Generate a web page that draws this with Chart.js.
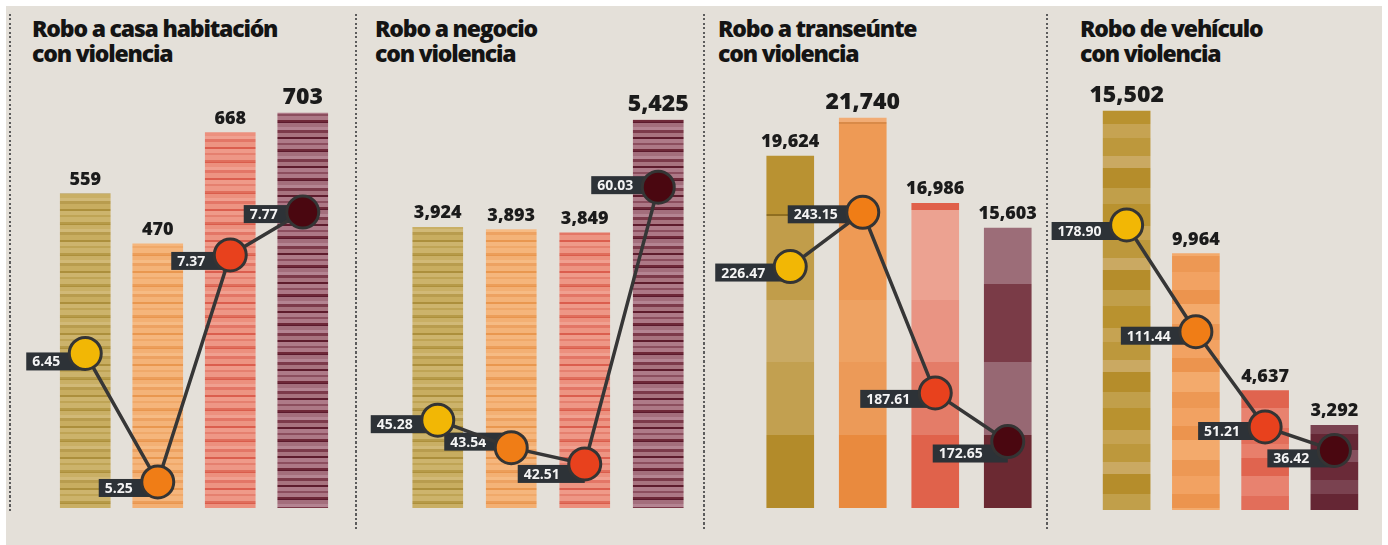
<!DOCTYPE html>
<html>
<head>
<meta charset="utf-8">
<script src="https://cdn.jsdelivr.net/npm/chart.js@4.4.1/dist/chart.umd.min.js"></script>
<style>
html,body{margin:0;padding:0;background:#ffffff;}
#wrap{position:relative;width:1388px;height:545px;overflow:hidden;background:#ffffff;}
#bg{position:absolute;left:6px;top:6px;width:1376px;height:539px;background:#e4e0d9;}
canvas.c{position:absolute;left:0;top:0;}
.sep{position:absolute;width:2px;background:repeating-linear-gradient(to bottom,#5c5c5c 0px,#5c5c5c 2px,transparent 2px,transparent 4.5px);}
.title{position:absolute;top:16px;font-family:"Open Sans",sans-serif;font-weight:800;font-size:23px;line-height:25px;letter-spacing:-1.2px;color:#141414;white-space:nowrap;}
</style>
</head>
<body>
<div id="wrap">
  <div id="bg"></div>
  <div class="sep" style="left:9px;top:14px;height:499px;"></div>
  <div class="sep" style="left:355px;top:14px;height:516px;"></div>
  <div class="sep" style="left:703px;top:14px;height:516px;"></div>
  <div class="sep" style="left:1046px;top:14px;height:516px;"></div>
  <div class="title" id="t0" style="left:32px;"></div>
  <div class="title" id="t1" style="left:375px;"></div>
  <div class="title" id="t2" style="left:718px;"></div>
  <div class="title" id="t3" style="left:1080px;"></div>
  <canvas class="c" id="c0" width="1388" height="545"></canvas>
  <canvas class="c" id="c1" width="1388" height="545"></canvas>
  <canvas class="c" id="c2" width="1388" height="545"></canvas>
  <canvas class="c" id="c3" width="1388" height="545"></canvas>
</div>
<script>
// ---------------- DATA ----------------
const periods = ['Periodo 1', 'Periodo 2', 'Periodo 3', 'Periodo 4'];
const panelTitles = [
  ['Robo a casa habitación', 'con violencia'],
  ['Robo a negocio', 'con violencia'],
  ['Robo a transeúnte', 'con violencia'],
  ['Robo de vehículo', 'con violencia']
];
const casaTotals = [559, 470, 668, 703];
const casaRates = [6.45, 5.25, 7.37, 7.77];
const negocioTotals = [3924, 3893, 3849, 5425];
const negocioRates = [45.28, 43.54, 42.51, 60.03];
const transeunteTotals = [19624, 21740, 16986, 15603];
const transeunteRates = [226.47, 243.15, 187.61, 172.65];
const vehiculoTotals = [15502, 9964, 4637, 3292];
const vehiculoRates = [178.90, 111.44, 51.21, 36.42];

// ---------------- STYLE HELPERS ----------------
function bandPattern(bands) {
  const h = bands.reduce((s, b) => s + b[1], 0);
  const c = document.createElement('canvas');
  c.width = 8; c.height = h;
  const x = c.getContext('2d');
  let y = 0;
  for (const [col, bh] of bands) { x.fillStyle = col; x.fillRect(0, y, 8, bh); y += bh; }
  return x.createPattern(c, 'repeat');
}
function absPattern(segs) { // segs: [color, endY] absolute canvas y
  const c = document.createElement('canvas');
  c.width = 8; c.height = 545;
  const x = c.getContext('2d');
  let y = 0;
  for (const [col, end] of segs) { x.fillStyle = col; x.fillRect(0, y, 8, end - y); y = end; }
  return x.createPattern(c, 'repeat');
}

const fine = [
  bandPattern([['#ccb36b',5],['#b69a48',2],['#ad903c',1],['#c9af65',4],['#d1b977',3],['#b89c4e',3],['#c8ad60',5],['#ac8f3c',2],['#cdb46d',4],['#bfa455',2]]),
  bandPattern([['#f5b57b',5],['#ec9e5a',2],['#e9964f',1],['#f3b074',4],['#f6bb84',3],['#eda262',3],['#f4b378',5],['#e9974f',2],['#f5b67d',4],['#f0a96a',2]]),
  bandPattern([['#ee9786',5],['#e06e5c',2],['#da5d4c',1],['#ec907e',4],['#f0a090',3],['#e37666',3],['#ed9482',5],['#db5e4e',2],['#ef9a89',4],['#e5806f',2]]),
  bandPattern([['#ad7886',4],['#6e2838',2],['#5c1a2d',1],['#a36e7c',4],['#b48492',3],['#7c3a4a',3],['#a8737f',4],['#5e1c2d',2],['#ae7a88',4],['#8c4e5e',2]])
];
const blocks3 = [
  absPattern([['#b99232',214],['#8f6e20',216],['#c19d4a',300],['#c9aa64',362],['#c2a050',435],['#b38b2a',545]]),
  absPattern([['#f2ac74',122],['#d98a48',124],['#ee9a55',300],['#eea262',362],['#ec9a58',435],['#e98a3e',545]]),
  absPattern([['#e0604a',210],['#eca291',300],['#e99483',362],['#e47c68',435],['#e0624b',545]]),
  absPattern([['#9c6d78',284],['#7a3b47',362],['#976873',435],['#6b2932',545]])
];
const blocks4 = [
  bandPattern([['#b9922f',22],['#c6a352',14],['#bd983c',18],['#caa962',12],['#b58d2b',20],['#c19f4a',16]]),
  bandPattern([['#f2a262',18],['#ec944e',14],['#f3aa6c',20],['#ed9854',16]]),
  bandPattern([['#e8826f',20],['#e26e5a',16],['#e87f6b',14],['#e0644f',18]]),
  bandPattern([['#7a4250',14],['#652634',16],['#85505e',12],['#6a2a38',18]])
];

const pointColors = ['#f2b705', '#f07d16', '#e8411d', '#4a0710'];

const panels = [
  { totals: casaTotals, rates: casaRates, fill: fine, left: 49, right: 339, bottom: 508, barW: 50, yMax: 797.3, rMin: 5.007, rMax: 9.19, boxDy: [8, 6, 6, 2] },
  { totals: negocioTotals, rates: negocioRates, fill: fine, left: 401, right: 695, bottom: 508, barW: 50, yMax: 6264, rMin: 39.72, rMax: 68.08, boxDy: [4, -6, 10, -2] },
  { totals: transeunteTotals, rates: transeunteRates, fill: blocks3, left: 754, right: 1044, bottom: 508, barW: 47, yMax: 24973, rMin: 152.2, rMax: 290.0, boxDy: [6, 2, 6, 12] },
  { totals: vehiculoTotals, rates: vehiculoRates, fill: blocks4, left: 1092, right: 1384, bottom: 510, barW: 47, yMax: 17483, rMin: -1.26, rMax: 283.2, boxDy: [6, 4, 4, 8] }
];

// ---------------- PLUGINS ----------------
const rateBoxes = {
  id: 'rateBoxes',
  beforeDatasetDraw(chart, args, opts) {
    if (args.meta.type !== 'line') return;
    const ctx = chart.ctx;
    const ds = chart.data.datasets[args.index];
    ctx.save();
    ctx.font = 'bold 14px "Open Sans", sans-serif';
    args.meta.data.forEach((el, i) => {
      const txt = ds.data[i].toFixed(2);
      const w = ctx.measureText(txt).width;
      const cy = el.y + (opts.dy ? opts.dy[i] : 4);
      const textRight = el.x - 25;
      const left = textRight - w - 6;
      ctx.fillStyle = '#2d3237';
      ctx.fillRect(left, cy - 9, el.x - left, 18);
      ctx.fillStyle = '#f4f4f4';
      ctx.textAlign = 'right';
      ctx.textBaseline = 'middle';
      ctx.fillText(txt, textRight, cy + 1);
    });
    ctx.restore();
  }
};
const barValues = {
  id: 'barValues',
  afterDatasetsDraw(chart) {
    const ctx = chart.ctx;
    chart.data.datasets.forEach((ds, di) => {
      const meta = chart.getDatasetMeta(di);
      if (meta.type !== 'bar') return;
      const mx = Math.max(...ds.data);
      meta.data.forEach((el, i) => {
        const v = ds.data[i];
        const big = v === mx;
        ctx.save();
        ctx.font = (big ? '800 23px' : '800 18px') + ' "Open Sans", sans-serif';
        ctx.fillStyle = '#1b1b1b';
        ctx.textAlign = 'center';
        ctx.textBaseline = 'alphabetic';
        ctx.fillText(v.toLocaleString('en-US'), el.x, el.y - 9);
        ctx.restore();
      });
    });
  }
};

// ---------------- CHARTS ----------------
panels.forEach((p, k) => {
  const t = document.getElementById('t' + k);
  t.innerHTML = panelTitles[k].join('<br>');
  new Chart(document.getElementById('c' + k), {
    type: 'bar',
    data: {
      labels: periods,
      datasets: [
        {
          type: 'line',
          data: p.rates,
          yAxisID: 'y2',
          order: 0,
          clip: false,
          borderColor: '#363636',
          borderWidth: 3.5,
          pointRadius: 16,
          pointBorderWidth: 3,
          pointBorderColor: '#343434',
          pointBackgroundColor: pointColors,
          tension: 0
        },
        {
          type: 'bar',
          data: p.totals,
          yAxisID: 'y',
          order: 1,
          backgroundColor: p.fill,
          borderWidth: 0,
          barThickness: p.barW
        }
      ]
    },
    options: {
      responsive: false,
      devicePixelRatio: 1,
      animation: false,
      events: [],
      layout: { padding: { left: p.left, right: 1388 - p.right, top: 60, bottom: 545 - p.bottom } },
      scales: {
        x: { display: false, offset: true },
        y: { display: false, min: 0, max: p.yMax },
        y2: { display: false, min: p.rMin, max: p.rMax }
      },
      plugins: {
        legend: { display: false },
        tooltip: { enabled: false },
        rateBoxes: { dy: p.boxDy }
      }
    },
    plugins: [rateBoxes, barValues]
  });
});
</script>
</body>
</html>
